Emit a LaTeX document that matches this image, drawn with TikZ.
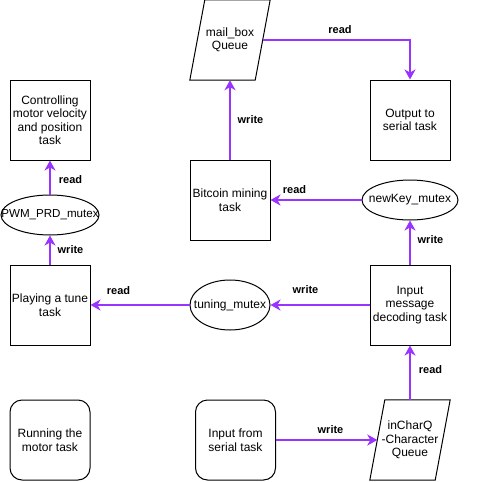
\documentclass[tikz,border=0pt]{standalone}
\usepackage{fontspec}
\setmainfont{Liberation Sans}
\usetikzlibrary{arrows.meta,shapes.geometric,calc}
\definecolor{linkc}{RGB}{153,51,255}
\begin{document}
\begin{tikzpicture}[x=1pt,y=-1pt,
  every node/.style={font=\fontsize{12}{13.5}\selectfont, align=center, inner sep=0pt},
  task/.style={draw, line width=1pt, minimum width=80pt, minimum height=80pt},
  rtask/.style={task, rounded corners=12pt},
  mutex/.style={draw, ellipse, line width=1pt, minimum height=40pt},
  queuebox/.style={minimum width=80pt, minimum height=80pt},
  qborder/.style={draw, line width=1pt, line join=miter},
  link/.style={draw=linkc, line width=2pt, -{Stealth[length=10pt,width=11pt,inset=3pt]}},
  lbl/.style={font=\bfseries\fontsize{11}{13}\selectfont}
]
\path[use as bounding box, fill=white] (0,0) rectangle (482,482);

% tasks
\node[task] (ctrl) at (50,120) {Controlling\\motor velocity\\and position\\task};
\node[task] (out)  at (410,120) {Output to\\serial task};
\node[task] (bit)  at (230,200) {Bitcoin mining\\task};
\node[task] (play) at (50,305) {Playing a tune\\task};
\node[task] (dec)  at (410,305) {Input\\message\\decoding task};
\node[rtask] (run) at (50,440) {Running the\\motor task};
\node[rtask] (ser) at (235.5,440) {Input from\\serial task};

% mutexes
\node[mutex, minimum width=98pt] (pwm) at (50,215) {\makebox[0pt]{\fontsize{11.6}{13.5}\selectfont PWM\_PRD\_mutex}};
\node[mutex, minimum width=96pt] (nk)  at (410,200) {\makebox[0pt]{newKey\_mutex}};
\node[mutex, minimum width=80pt, minimum height=50pt] (tun) at (230,305) {\makebox[0pt]{tuning\_mutex}};

% queues (parallelograms)
\node[queuebox] (mail) at (230,40) {mail\_box\\Queue};
\node[queuebox] (inq)  at (410,440) {inCharQ\\-Character\\Queue};
\draw[qborder] ($(mail.north west)+(15,0)$) -- (mail.north east)
  -- ($(mail.south east)+(-15,0)$) -- (mail.south west) -- cycle;
\draw[qborder] ($(inq.north west)+(15,0)$) -- (inq.north east)
  -- ($(inq.south east)+(-15,0)$) -- (inq.south west) -- cycle;

% connectors
\draw[link] ($(mail.east)+(-7.5,0)$) -| (out.north);
\draw[link] (bit.north) -- (mail.south);
\draw[link] (nk) -- (bit);
\draw[link] (dec) -- (nk);
\draw[link] (dec) -- (tun);
\draw[link] (tun) -- (play);
\draw[link] (play) -- (pwm);
\draw[link] (pwm) -- (ctrl);
\draw[link] (inq.north) -- (dec.south);
\draw[link] (ser.east) -- ($(inq.west)+(7.5,0)$);

% connector labels
\node[lbl] (lr1) at (340,30) {read};
\node[lbl] (lw1) at (250.5,120) {write};
\node[lbl] (lr2) at (294.5,190) {read};
\node[lbl] (lw2) at (430.5,240) {write};
\node[lbl] (lw3) at (305.5,290) {write};
\node[lbl] (lr3) at (430.5,370) {read};
\node[lbl] (lr4) at (118.5,290.5) {read};
\node[lbl] (lw4) at (70.5,250) {write};
\node[lbl] (lr5) at (70.5,180) {read};
\node[lbl] (lw5) at (330.5,430) {write};
\end{tikzpicture}
\end{document}
